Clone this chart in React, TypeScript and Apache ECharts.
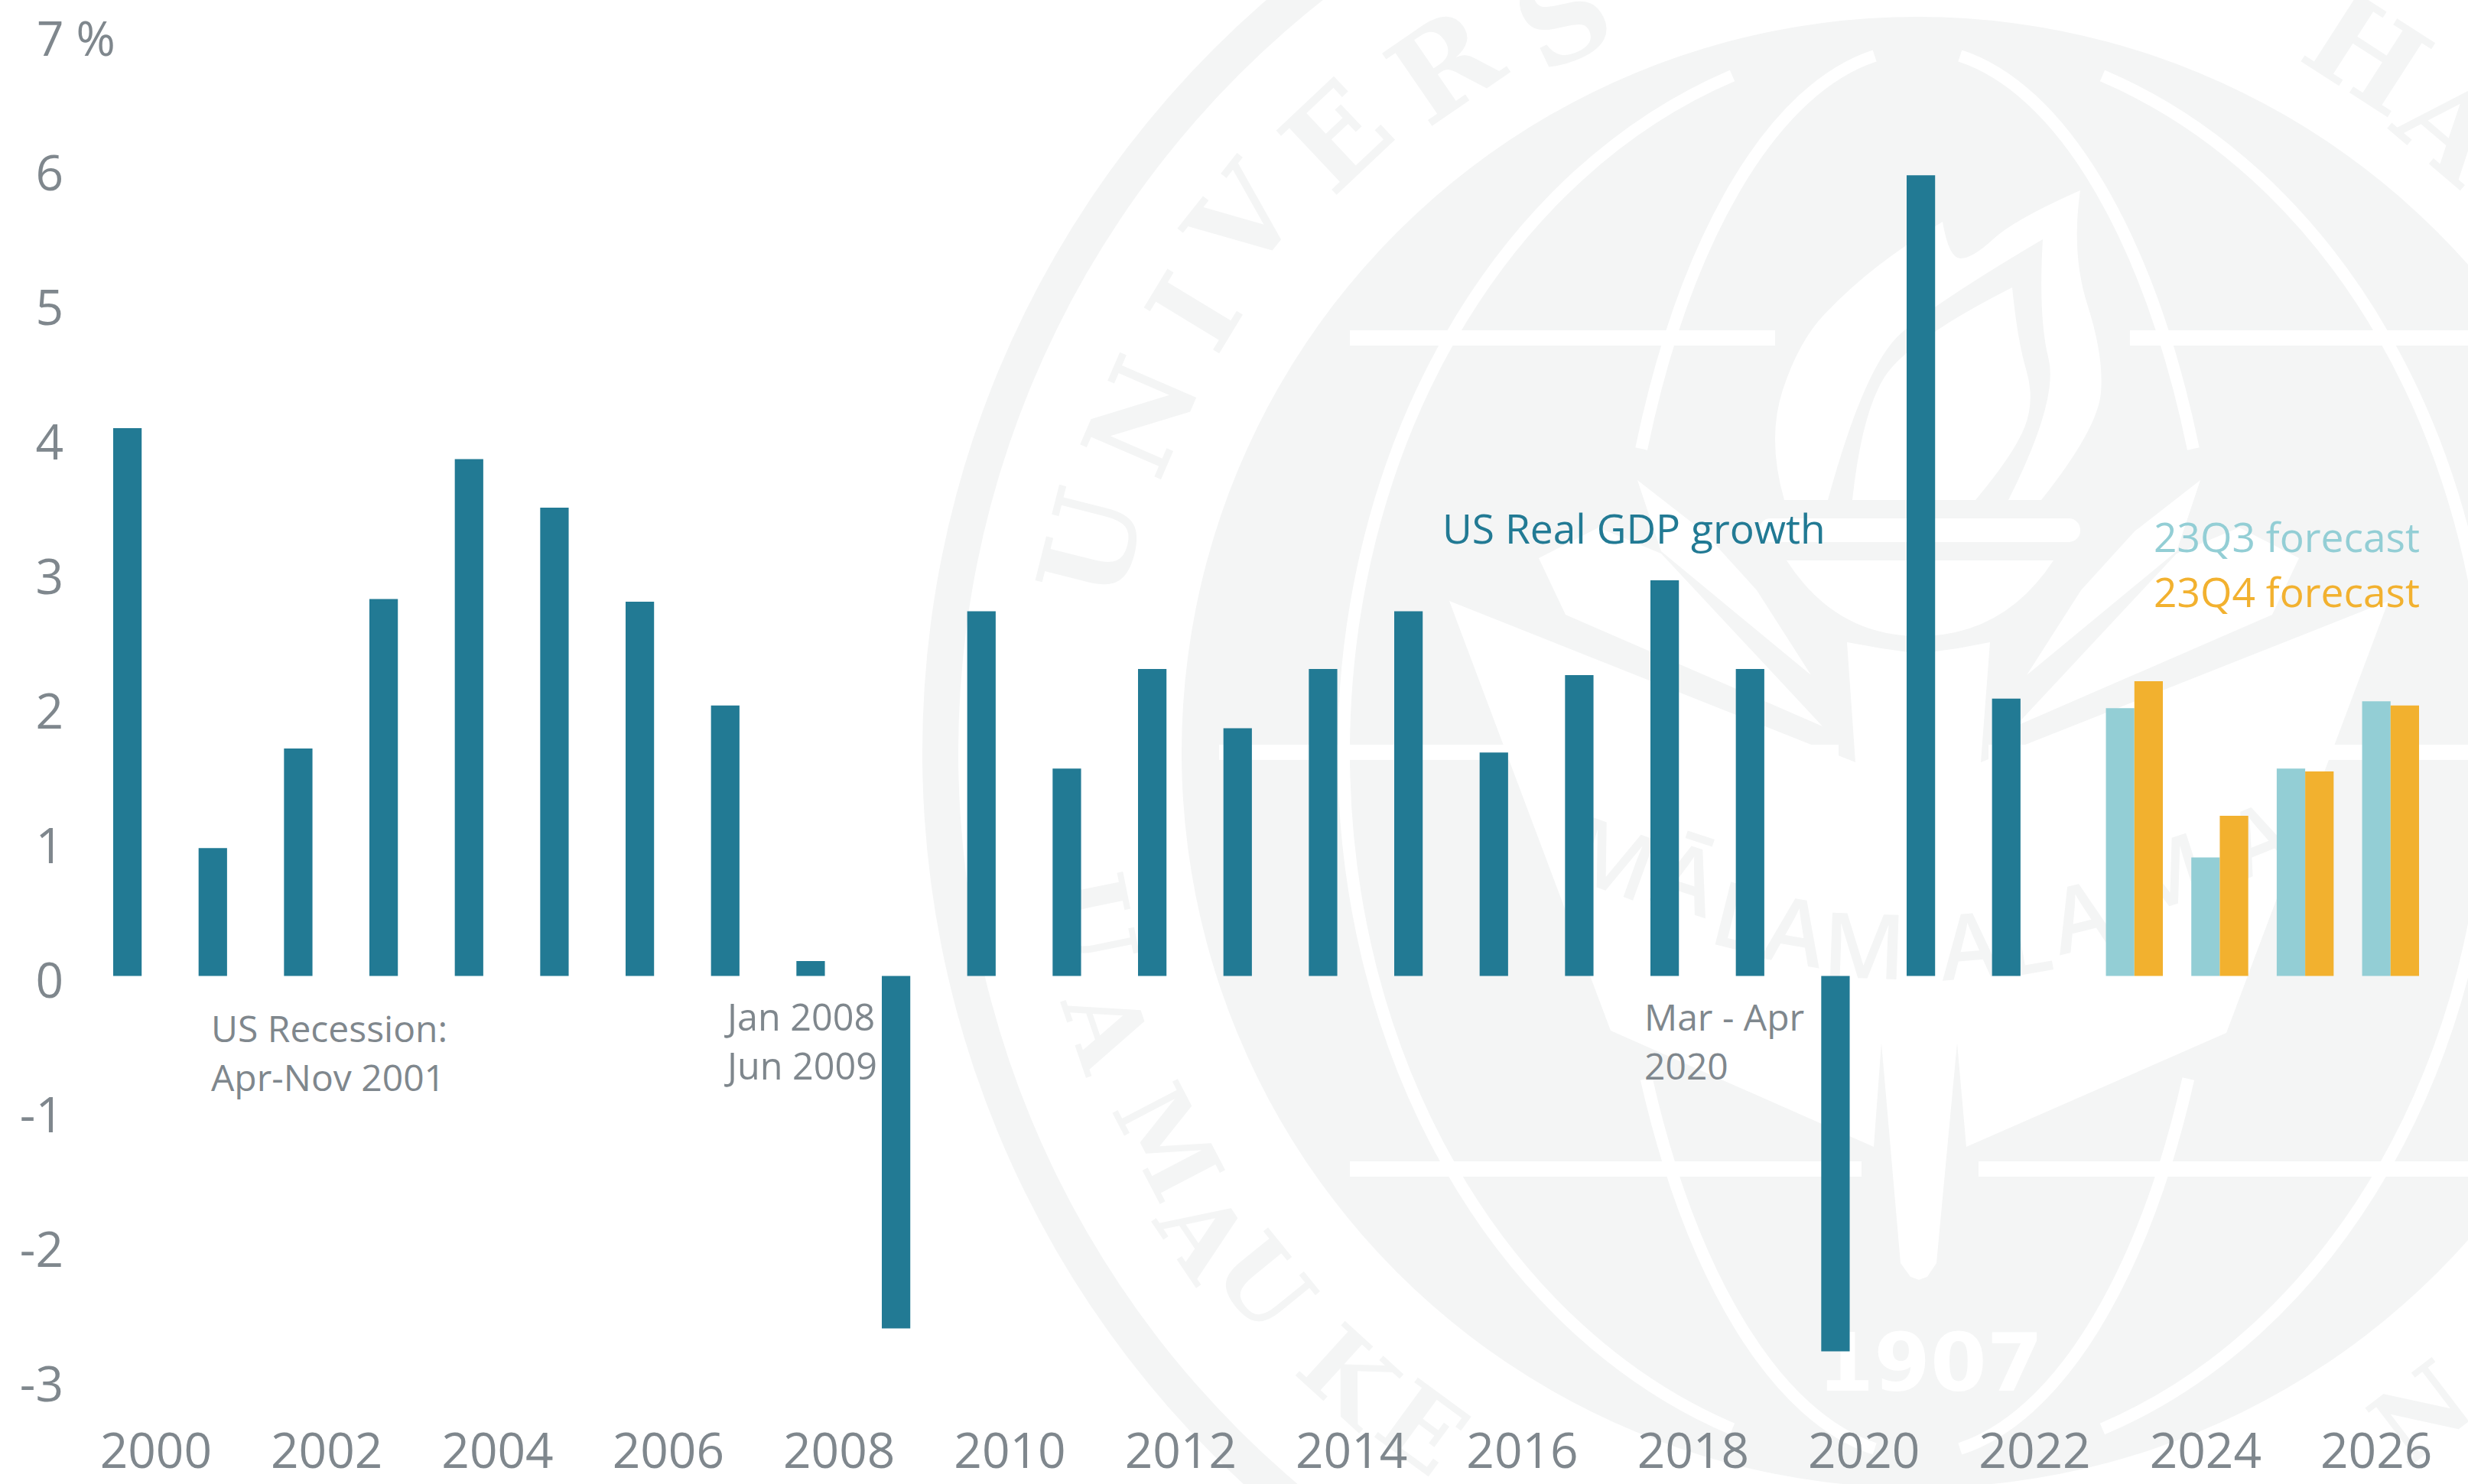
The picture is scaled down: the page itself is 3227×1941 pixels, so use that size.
import React, { useEffect, useRef } from "react";
import * as echarts from "echarts";

const years = ["2000","2001","2002","2003","2004","2005","2006","2007","2008","2009","2010","2011","2012","2013","2014","2015","2016","2017","2018","2019","2020","2021","2022","2023","2024","2025","2026"];
const gdp = [4.07,0.95,1.69,2.8,3.84,3.48,2.78,2.01,0.11,-2.62,2.71,1.54,2.28,1.84,2.28,2.71,1.66,2.235,2.94,2.28,-2.79,5.95,2.06,null,null,null,null];
const forecastQ3 = [...Array(23).fill(null),1.99,0.88,1.54,2.04];
const forecastQ4 = [...Array(23).fill(null),2.19,1.19,1.52,2.01];

const BLUE = "#227a94";
const TEAL = "#93ced5";
const ORANGE = "#f2b12f";
const GREY = "#7f878d";
const WM = "#f4f5f5";
const FONT = '"Open Sans"';

const CX = 2507;
const CY = 984;
const ringTop = [["U",1427,712],["N",1493,545],["I",1562,408],["V",1625,287],["E",1748,178],["R",1889,86],["S",2044,23],["H",3095,70],["A",3205,166]] as const;
const ringBottom = [["U",1430,1202],["A",1447,1345],["M",1527,1494],["A",1573,1615],["U",1653,1678],["K",1763,1799],["E",1860,1868],["N",3166,1848]] as const;
const motto = [["M",2110,1120,-20],["Ā",2207,1146,-18],["L",2274,1196,-14],["A",2348,1215,-10],["M",2438,1234,-2],["A",2575,1234,5],["L",2649,1228,10],["A",2720,1196,14],["M",2829,1140,18],["A",2951,1095,22]] as const;

const mirror = (pts: number[][]) => pts.map(([x, y]) => [5018 - x, y]);
const poly = (pts: number[][]) => "M" + pts.map((p) => p.slice(0, 2).join(" ")).join("L") + "Z";
const smooth = (pts: number[][]) => {
  const n = pts.length;
  let d = `M${pts[0][0]} ${pts[0][1]}`;
  let i = 1;
  while (i <= n) {
    const p = pts[i % n];
    const q = pts[(i + 1) % n];
    if (p[2]) {
      d += `L${p[0]} ${p[1]}`;
      i += 1;
    } else if (q[2]) {
      d += `Q${p[0]} ${p[1]} ${q[0]} ${q[1]}`;
      i += 2;
    } else {
      d += `Q${p[0]} ${p[1]} ${(p[0] + q[0]) / 2} ${(p[1] + q[1]) / 2}`;
      i += 1;
    }
  }
  return d + "Z";
};

const chevronD = poly([[1895,786],[2426,997],[2415,840],[2460,848],[2509,855],[2560,848],[2602,840],[2590,997],[3123,786],[2911,1351],[2571,1500],[2559,1364],[2532,1652],[2520,1670],[2509,1674],[2498,1670],[2485,1652],[2460,1364],[2450,1500],[2106,1348]]);
const leafA = [[2141,628],[2227,695],[2297,772],[2368,883],[2172,721]];
const leafB = [[2012,730],[2047,804],[2383,950],[2172,724],[2090,690]];
const flameOuter = smooth([[2333,654,1],[2310,574],[2352,446],[2420,375],[2493,319],[2540,290,1],[2548,338],[2579,338],[2634,287],[2720,249,1],[2708,332],[2751,466],[2743,561],[2669,654,1],[2626,654,1],[2692,523],[2665,415],[2671,313,1],[2532,395],[2438,478],[2390,654,1]]);
const flameInner = smooth([[2422,654,1],[2434,542],[2493,446],[2631,376,1],[2638,446],[2661,523],[2634,593],[2583,654,1]]);
const bowlD = "M2336 733 L2685 733 Q2620 832 2509 832 Q2400 832 2336 733 Z";
const arc = (rx: number, ry: number, dyA: number, dyB: number, side: number) => {
  const off = (dy: number) => rx * Math.sqrt(1 - (dy * dy) / (ry * ry));
  const sweep = side < 0 ? 0 : 1;
  return `M${CX + side * off(dyA)} ${CY + dyA} A${rx} ${ry} 0 0 ${sweep} ${CX + side * off(dyB)} ${CY + dyB}`;
};
const meridianD = [
  arc(750, 935, -885, 885, -1), arc(750, 935, -885, 885, 1),
  arc(400, 920, -911, -397, -1), arc(400, 920, -911, -397, 1),
  arc(400, 920, 427, 911, -1), arc(400, 920, 427, 911, 1),
].join(" ");

echarts.graphic.registerShape("wmChevron", echarts.graphic.extendPath(chevronD, {}));
echarts.graphic.registerShape("wmLeaves", echarts.graphic.extendPath([leafA, leafB, mirror(leafA), mirror(leafB)].map(poly).join(" "), {}));
echarts.graphic.registerShape("wmFlameOuter", echarts.graphic.extendPath(flameOuter, {}));
echarts.graphic.registerShape("wmBowl", echarts.graphic.extendPath(bowlD, {}));
echarts.graphic.registerShape("wmMeridians", echarts.graphic.extendPath(meridianD, {}));
echarts.graphic.registerShape("wmFlameInner", echarts.graphic.extendPath(flameInner, {}));

const rect = (x: number, y: number, w: number, h: number) => ({
  type: "rect", z: -8, shape: { x, y, width: w, height: h }, style: { fill: "#fff" },
});
const letter = (t: string, x: number, y: number, rot: number, font: string, fill = WM) => ({
  type: "text", x, y, rotation: rot, z: -7, silent: true,
  style: { text: t, font, fill, align: "center", verticalAlign: "middle", textAlign: "center", textVerticalAlign: "middle" },
});
const label = (t: string, x: number, y: number, size: number, fill: string, weight = 400) => ({
  type: "text", x, y, z: 1, silent: true,
  style: { text: t, font: `${weight} ${size}px ${FONT}`, fill, align: "left", verticalAlign: "middle", textAlign: "left", textVerticalAlign: "middle" },
});
const shape = (type: string, fillWhite = true) => ({
  type, x: 0, y: 0, z: -8, style: fillWhite ? { fill: "#fff" } : { fill: "none", stroke: "#fff", lineWidth: 16 },
});

const watermark = [
  { type: "ring", z: -9, shape: { cx: CX, cy: CY, r: 1301, r0: 1254 }, style: { fill: WM } },
  { type: "circle", z: -9, shape: { cx: CX, cy: CY, r: 962 }, style: { fill: WM } },
  rect(1765, 432, 556, 20), rect(2785, 432, 468, 20),
  rect(1594, 974, 810, 20), rect(2600, 974, 820, 20),
  rect(1765, 1519, 669, 20), rect(2587, 1519, 666, 20),
  shape("wmMeridians", false),
  shape("wmChevron"), shape("wmLeaves"), shape("wmFlameOuter"), shape("wmFlameInner"), shape("wmBowl"),
  { type: "rect", z: -8, shape: { x: 2300, y: 678, width: 420, height: 31, r: 15 }, style: { fill: "#fff" } },
  ...ringTop.map(([t, x, y]) => letter(t, x, y, Math.atan2(-(x - CX), -(y - CY)), 'bold 158px "DejaVu Serif"')),
  ...ringBottom.map(([t, x, y]) => letter(t, x, y, Math.atan2(x - CX, y - CY), 'bold 132px "DejaVu Serif"')),
  ...motto.map(([t, x, y, r]) => letter(t, x, y, (r * Math.PI) / 180, `600 118px ${FONT}`)),
  letter("1907", 2524, 1782, 0, 'bold 106px "DejaVu Sans"', "#ffffff"),
];

const annotations = [
  label("7 %", 48, 49, 62, GREY),
  label("US Recession:", 276, 1344, 48, GREY),
  label("Apr-Nov 2001", 276, 1408, 48, GREY),
  label("Jan 2008 -", 951, 1329, 48.5, GREY),
  label("Jun 2009", 951, 1393, 48.5, GREY),
  label("Mar - Apr", 2150, 1329, 48, GREY),
  label("2020", 2150, 1393, 48, GREY),
  label("US Real GDP growth", 1886, 690, 53.3, BLUE),
  label("23Q3 forecast", 2816, 701, 53.3, TEAL),
  label("23Q4 forecast", 2816, 773, 53.3, ORANGE),
];

export default function App() {
  const ref = useRef<HTMLDivElement>(null);
  useEffect(() => {
    const chart = echarts.init(ref.current!, undefined, { renderer: "svg" });
    chart.setOption({
      animation: false,
      backgroundColor: "#ffffff",
      grid: { left: 148, top: 44.4, width: 3015, height: 1760, containLabel: false },
      xAxis: {
        type: "category", data: years, position: "bottom",
        axisLine: { show: false, onZero: false }, axisTick: { show: false },
        axisLabel: { interval: 1, color: GREY, fontFamily: FONT, fontWeight: 400, fontSize: 64, margin: 59, hideOverlap: false },
      },
      yAxis: {
        type: "value", min: -3, max: 7, interval: 1,
        axisLine: { show: false }, axisTick: { show: false }, splitLine: { show: false },
        axisLabel: {
          color: GREY, fontFamily: FONT, fontWeight: 400, fontSize: 64, margin: 65, align: "right",
          verticalAlign: "top", lineHeight: 8, formatter: (v: number) => (v === 7 ? "" : String(v)),
        },
      },
      graphic: { elements: [...watermark, ...annotations] },
      series: [
        { name: "US Real GDP growth", type: "bar", data: gdp, barGap: "0%", barCategoryGap: "0%", itemStyle: { color: BLUE } },
        { name: "23Q3 forecast", type: "bar", data: forecastQ3, itemStyle: { color: TEAL } },
        { name: "23Q4 forecast", type: "bar", data: forecastQ4, itemStyle: { color: ORANGE } },
      ],
    });
    return () => chart.dispose();
  }, []);
  return <div ref={ref} style={{ position: "fixed", left: 0, top: 0, width: 3227, height: 1941 }} />;
}
